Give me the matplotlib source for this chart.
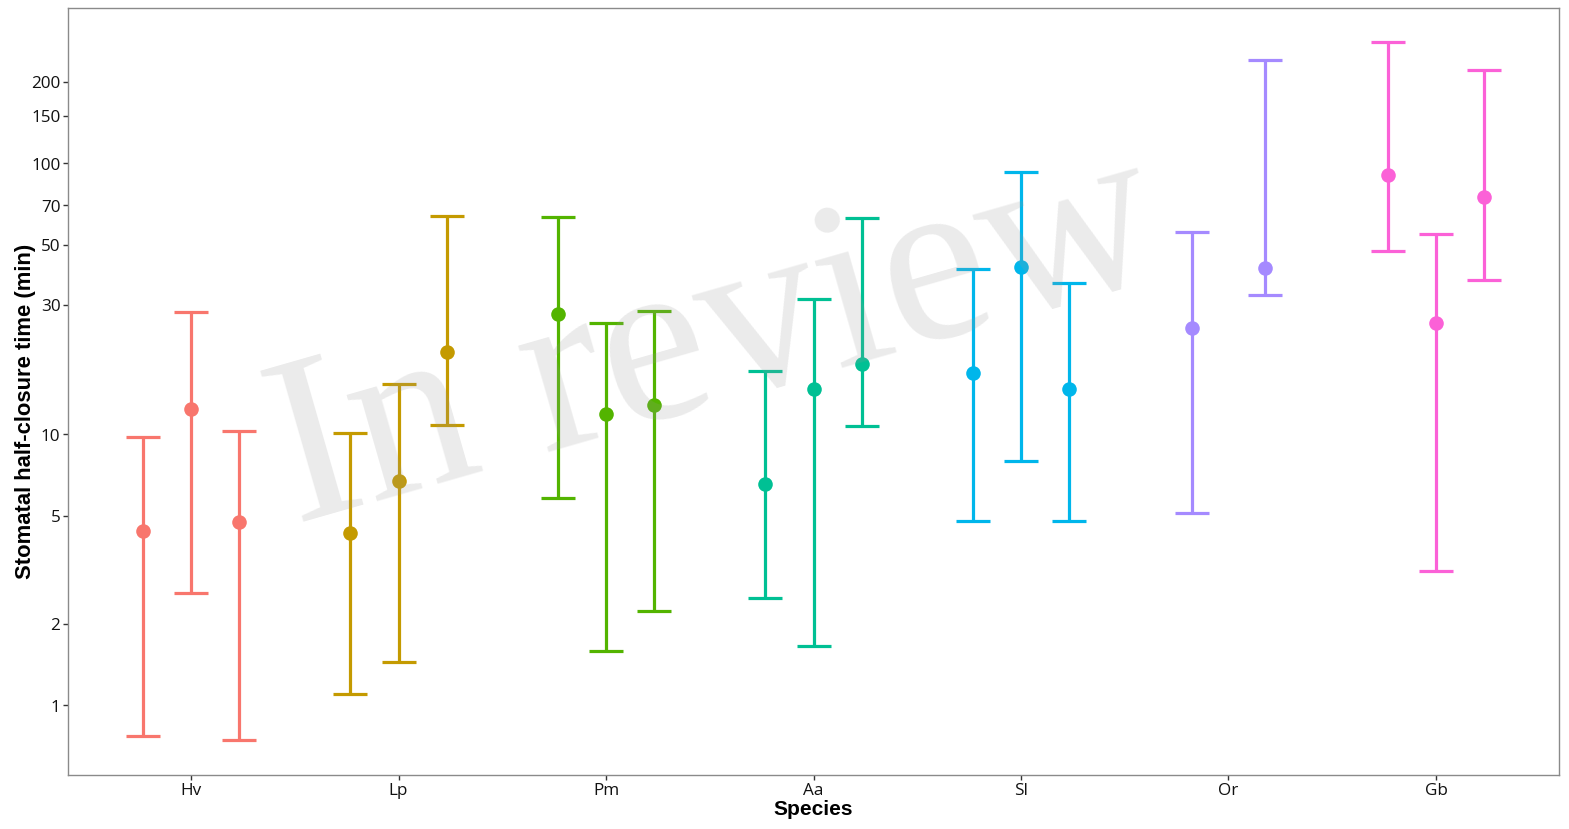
import numpy as np
import matplotlib
matplotlib.use("Agg")
import matplotlib.pyplot as plt
from matplotlib.ticker import FixedLocator, FixedFormatter, NullLocator

# ---- data ----
species = ["Hv", "Lp", "Pm", "Aa", "Sl", "Or", "Gb"]
colors = ["#F8766D", "#C49A00", "#53B400", "#00C094", "#00B6EB", "#A58AFF", "#FB61D7"]

hv_mean = [4.39, 12.4, 4.73]
hv_low = [0.77, 2.59, 0.743]
hv_high = [9.75, 28.2, 10.3]

lp_mean = [4.31, 6.71, 20.2]
lp_low = [1.10, 1.44, 10.8]
lp_high = [10.1, 15.3, 63.7]

pm_mean = [27.9, 11.85, 12.8]
pm_low = [5.81, 1.58, 2.22]
pm_high = [63.2, 25.7, 28.4]

aa_mean = [6.54, 14.7, 18.1]
aa_low = [2.48, 1.66, 10.7]
aa_high = [17.1, 31.5, 62.7]

sl_mean = [16.9, 41.3, 14.7]
sl_low = [4.78, 7.95, 4.78]
sl_high = [40.6, 92.6, 36.1]

or_mean = [24.6, 41.0]
or_low = [5.11, 32.6]
or_high = [55.6, 240.0]

gb_mean = [90.3, 25.7, 74.9]
gb_low = [47.3, 3.12, 37.0]
gb_high = [279.6, 54.7, 222.0]

means = [hv_mean, lp_mean, pm_mean, aa_mean, sl_mean, or_mean, gb_mean]
lows = [hv_low, lp_low, pm_low, aa_low, sl_low, or_low, gb_low]
highs = [hv_high, lp_high, pm_high, aa_high, sl_high, or_high, gb_high]

y_ticks = [1, 2, 5, 10, 30, 50, 70, 100, 150, 200]

# ---- figure ----
W, H = 1569, 829
fig = plt.figure(figsize=(W / 100, (H + 0.5) / 100), dpi=100)
ax = fig.add_axes([68 / W, 1 - 775 / H, (1559 - 68) / W, (775 - 8) / H])

dodge = 0.7
for i, (m, lo, hi, c) in enumerate(zip(means, lows, highs, colors)):
    n = len(m)
    for j in range(n):
        x = (i + 1) + (j - (n - 1) / 2) * dodge / n
        ax.errorbar([x], [m[j]],
                    yerr=[[m[j] - lo[j]], [hi[j] - m[j]]],
                    fmt="none", ecolor=c, elinewidth=2.3,
                    capsize=12.2, capthick=2.3, zorder=2)
        ax.plot([x], [m[j]], "o", color=c, markersize=10.5,
                markeredgewidth=0, zorder=3)

ax.set_yscale("log")
all_lo = np.log10(min(min(l) for l in lows))
all_hi = np.log10(max(max(h) for h in highs))
pad = 0.05 * (all_hi - all_lo)
ax.set_ylim(10 ** (all_lo - pad), 10 ** (all_hi + pad))
ax.set_xlim(1 - 0.593, len(species) + 0.593)

ax.yaxis.set_major_locator(FixedLocator(y_ticks))
ax.yaxis.set_major_formatter(FixedFormatter([str(t) for t in y_ticks]))
ax.yaxis.set_minor_locator(NullLocator())
ax.set_xticks(range(1, len(species) + 1))
ax.set_xticklabels(species)

tick_font = "Open Sans"
for lab in ax.get_xticklabels() + ax.get_yticklabels():
    lab.set_fontfamily(tick_font)
    lab.set_fontsize(12.3)
    lab.set_color("#111111")
ax.tick_params(axis="both", which="major", length=3.5, width=1.0,
               color="#333333", pad=2)

for s in ax.spines.values():
    s.set_color("#8a8a8a")
    s.set_linewidth(1.0)

ax.set_xlabel("Species", fontsize=15, fontweight="bold",
              fontfamily="Liberation Sans")
ax.set_ylabel("Stomatal half-closure time (min)", fontsize=15.8,
              fontweight="bold", fontfamily="Liberation Sans")
ax.xaxis.set_label_coords(0.5, -(800 - 775) / (775 - 8))
ax.yaxis.set_label_coords(-(68 - 36) / (1559 - 68), (775 - 411.5) / (775 - 8))

# watermark drawn on top
fig.text(295 / W, 1 - 524 / H, "In review", fontsize=172,
         fontfamily="Liberation Serif", color="#999999", alpha=0.2,
         rotation=16, rotation_mode="anchor", ha="left", va="baseline",
         zorder=10)

fig.savefig("out.png", dpi=100)
